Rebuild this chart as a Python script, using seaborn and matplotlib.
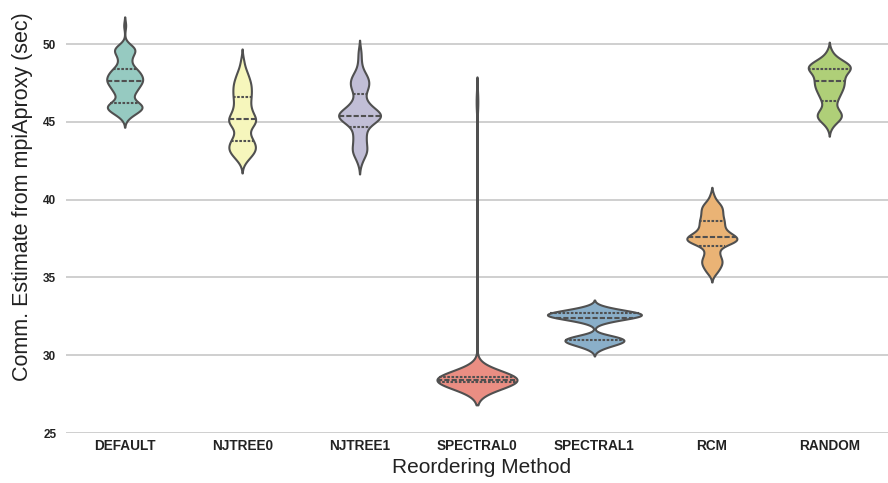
import numpy as np
import pandas as pd
import seaborn as sns
import matplotlib.pyplot as plt

methods = ["DEFAULT", "NJTREE0", "NJTREE1", "SPECTRAL0", "SPECTRAL1", "RCM", "RANDOM"]

default_vals = [51.2, 50.0, 49.8, 49.6, 49.4, 49.2, 49.0, 48.8, 48.6, 48.4, 48.2, 48.0, 47.8,
                47.6, 47.4, 47.2, 47.0, 46.8, 46.6, 46.4, 46.2, 46.0, 45.8, 45.6, 45.4, 45.2]
default_counts = [1, 1, 4, 4, 3, 2, 2, 2, 2, 4, 5, 5, 6, 6, 5, 4, 4, 3, 2, 2, 5, 7, 6, 4, 2, 1]

njtree0_vals = [49.0, 48.7, 48.4, 48.2, 48.0, 47.8, 47.6, 47.4, 47.2, 47.0, 46.8, 46.6, 46.4,
                46.2, 46.0, 45.8, 45.6, 45.4, 45.2, 45.0, 44.8, 44.6, 44.4, 44.2, 44.0, 43.8,
                43.6, 43.4, 43.2, 43.0, 42.8, 42.6, 42.4]
njtree0_counts = [1, 1, 1, 2, 2, 2, 3, 3, 3, 3, 3, 3, 3, 2, 3, 3, 3, 4, 5, 6, 4, 2, 2, 2, 3, 4,
                  4, 5, 5, 4, 3, 2, 1]

njtree1_vals = [49.6, 49.2, 48.8, 48.5, 48.2, 48.0, 47.8, 47.6, 47.4, 47.2, 47.0, 46.8, 46.6,
                46.4, 46.2, 46.0, 45.8, 45.6, 45.4, 45.2, 45.0, 44.8, 44.6, 44.4, 44.2, 44.0,
                43.8, 43.6, 43.4, 43.2, 43.0, 42.8, 42.6, 42.3]
njtree1_counts = [1, 1, 1, 1, 2, 2, 3, 3, 3, 3, 2, 2, 1, 2, 3, 3, 5, 7, 8, 7, 5, 3, 2, 2, 2, 2,
                  2, 2, 2, 3, 2, 2, 1, 1]

spectral0_vals = [27.9, 28.0, 28.1, 28.2, 28.3, 28.4, 28.5, 28.6, 28.7, 28.8, 28.9, 29.0,
                  45.8, 46.2, 46.5, 46.8]
spectral0_counts = [4, 10, 20, 32, 45, 52, 48, 38, 22, 12, 5, 2, 2, 2, 1, 2]

spectral1_vals = [30.3, 30.4, 30.5, 30.6, 30.7, 30.8, 30.9, 31.0, 31.1, 31.2, 31.3,
                  32.0, 32.1, 32.2, 32.3, 32.4, 32.5, 32.6, 32.7, 32.8, 32.9, 33.0, 33.1, 33.2]
spectral1_counts = [1, 1, 2, 3, 4, 5, 6, 6, 5, 4, 3,
                    1, 2, 3, 5, 7, 9, 10, 9, 7, 5, 3, 2, 1]

rcm_vals = [40.3, 40.0, 39.8, 39.6, 39.4, 39.2, 39.0, 38.8, 38.6, 38.4, 38.2, 38.0, 37.8, 37.6,
            37.4, 37.2, 37.0, 36.8, 36.6, 36.4, 36.2, 36.0, 35.8, 35.6, 35.4, 35.2]
rcm_counts = [1, 1, 2, 3, 3, 3, 3, 3, 4, 3, 4, 3, 6, 7, 9, 6, 2, 2, 2, 2, 3, 3, 3, 2, 2, 1]

random_vals = [49.6, 49.4, 49.2, 49.0, 48.8, 48.6, 48.4, 48.2, 48.0, 47.8, 47.6, 47.4, 47.2,
               47.0, 46.8, 46.6, 46.4, 46.2, 46.0, 45.8, 45.6, 45.4, 45.2, 45.0, 44.8, 44.6]
random_counts = [1, 1, 2, 4, 6, 8, 8, 6, 5, 5, 5, 5, 5, 4, 4, 3, 3, 2, 2, 3, 4, 5, 4, 3, 1, 1]

y_ticks = [25, 30, 35, 40, 45, 50]

groups = [(default_vals, default_counts), (njtree0_vals, njtree0_counts),
          (njtree1_vals, njtree1_counts), (spectral0_vals, spectral0_counts),
          (spectral1_vals, spectral1_counts), (rcm_vals, rcm_counts),
          (random_vals, random_counts)]

frames = []
for name, (vals, cnts) in zip(methods, groups):
    v = np.repeat(vals, cnts)
    frames.append(pd.DataFrame({"method": name, "value": v}))
df = pd.concat(frames, ignore_index=True)

sns.set_theme(style="whitegrid", rc={"grid.color": "#cccccc", "grid.linewidth": 1.3})
plt.rcParams['font.family'] = ['Liberation Sans', 'DejaVu Sans']

fig = plt.figure(figsize=(8.88, 4.83), dpi=100)
ax = fig.add_axes([0.0743, 0.1035, 0.9257, 0.889])

sns.violinplot(data=df, x="method", y="value", order=methods, hue="method",
               hue_order=methods, palette="Set3", legend=False, inner="quart",
               bw_method=0.2, gridsize=500, cut=2, density_norm="area",
               common_norm=True, width=0.8,
               linewidth=1.5, linecolor="#505050", ax=ax)

ax.set_ylim(25, 52.6)
ax.set_yticks(y_ticks)
ax.set_yticklabels([str(t) for t in y_ticks], fontsize=8.5, fontweight="bold", color="#222222")
ax.set_xticks(range(len(methods)))
ax.set_xticklabels(methods, fontsize=9.8, fontweight="bold", color="#222222")
ax.tick_params(axis="y", pad=7, length=0)
ax.tick_params(axis="x", pad=4, length=0)
ax.set_xlabel("Reordering Method", fontsize=15, color="#222222")
ax.set_ylabel("Comm. Estimate from mpiAproxy (sec)", fontsize=15.5, color="#222222")
ax.xaxis.set_label_coords(0.506, -0.058)
ax.yaxis.set_label_coords(-0.040, 0.55)
for s in ax.spines.values():
    s.set_visible(False)
ax.xaxis.grid(False)

fig.savefig("out.png", dpi=100)
